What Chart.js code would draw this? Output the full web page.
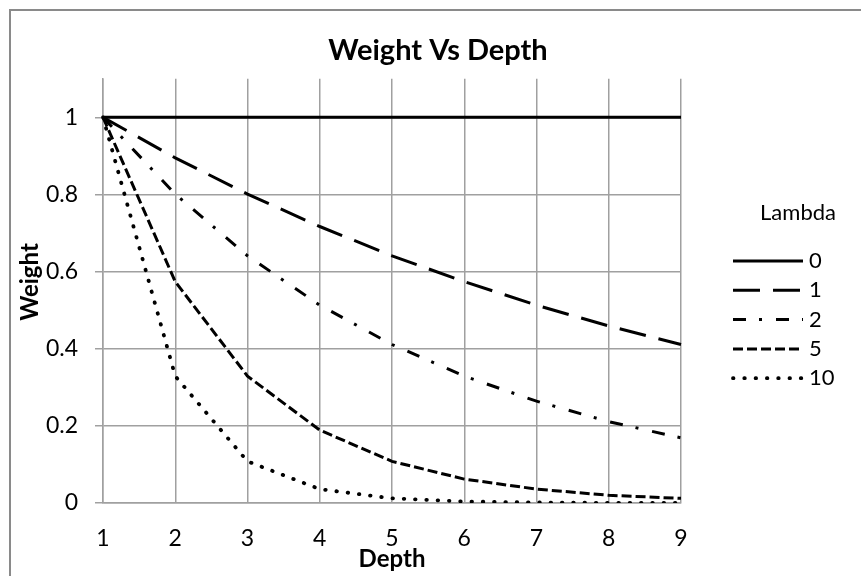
<!DOCTYPE html>
<html>
<head>
<meta charset="utf-8">
<script src="https://cdn.jsdelivr.net/npm/chart.js@4.4.1/dist/chart.umd.min.js"></script>
<style>
  body { margin: 0; background: #fff; }
</style>
</head>
<body>
<canvas id="mainChart" width="861" height="576"></canvas>
<script>
const depths = [1, 2, 3, 4, 5, 6, 7, 8, 9]
const lambdas = ['0', '1', '2', '5', '10']
const weight0 = [1, 1, 1, 1, 1, 1, 1, 1, 1]
const weight1 = [1, 0.895, 0.801, 0.717, 0.641, 0.574, 0.513, 0.459, 0.411]
const weight2 = [1, 0.801, 0.641, 0.513, 0.411, 0.329, 0.264, 0.211, 0.169]
const weight5 = [1, 0.574, 0.329, 0.189, 0.108, 0.062, 0.036, 0.020, 0.012]
const weight10 = [1, 0.329, 0.108, 0.036, 0.012, 0.004, 0.0013, 0.0004, 0.0001]
const yTicks = [0, 0.2, 0.4, 0.6, 0.8, 1]

const gridGray = '#a0a0a0'

// white background + the grey chart frame (only left/top edges are on screen)
const framePlugin = {
    id: 'frame',
    beforeDraw(chart) {
        const ctx = chart.ctx
        ctx.save()
        ctx.fillStyle = '#fff'
        ctx.fillRect(0, 0, chart.width, chart.height)
        ctx.strokeStyle = '#8a8a8a'
        ctx.lineWidth = 2
        ctx.strokeRect(10, 10, 2000, 2000)
        ctx.restore()
    }
}

// Excel puts the y title a bit above the middle of the axis, so draw it here
const weightTitle = {
    id: 'weightTitle',
    afterDraw(chart) {
        const ctx = chart.ctx
        ctx.save()
        ctx.fillStyle = '#000'
        ctx.font = 'bold 24px Lato'
        ctx.textAlign = 'center'
        ctx.textBaseline = 'middle'
        ctx.translate(30, 282)
        ctx.rotate(-Math.PI / 2)
        ctx.fillText('Weight', 0, 0)
        ctx.restore()
    }
}

// Excel style legend: title on top, line sample then label
const lambdaLegend = {
    id: 'lambdaLegend',
    afterDraw(chart) {
        const ctx = chart.ctx
        ctx.save()
        ctx.fillStyle = '#000'
        ctx.strokeStyle = '#000'
        ctx.font = '22px Lato'
        ctx.textBaseline = 'middle'
        ctx.textAlign = 'center'
        ctx.fillText('Lambda', 798, 213)
        chart.data.datasets.forEach((ds, i) => {
            const y = 261 + i * 29.3
            ctx.lineWidth = ds.borderWidth
            ctx.lineCap = ds.borderCapStyle || 'butt'
            ctx.setLineDash(ds.borderDash || [])
            ctx.beginPath()
            ctx.moveTo(733, y)
            ctx.lineTo(803, y)
            ctx.stroke()
            ctx.setLineDash([])
            ctx.textAlign = 'left'
            ctx.fillText(ds.label, 809, y)
        })
        ctx.restore()
    }
}

function serie(label, data, dash, cap, width) {
    return {
        label: label,
        data: data,
        borderColor: '#000',
        backgroundColor: '#000',
        borderWidth: width || 3,
        borderDash: dash,
        borderCapStyle: cap || 'butt',
        pointRadius: 0,
        tension: 0,
        fill: false
    }
}

const ctx = document.getElementById('mainChart').getContext('2d')
const mainChart = new Chart(ctx, {
    type: 'line',
    data: {
        labels: depths,
        datasets: [
            serie(lambdas[0], weight0, []),
            serie(lambdas[1], weight1, [27, 13]),
            serie(lambdas[2], weight2, [13, 13, 3, 14]),
            serie(lambdas[3], weight5, [10, 4]),
            serie(lambdas[4], weight10, [0.5, 10.8], 'round', 3.8)
        ]
    },
    options: {
        responsive: false,
        animation: false,
        devicePixelRatio: 1,
        layout: {
            padding: { left: 15, right: 0, top: 0, bottom: 0 }
        },
        plugins: {
            legend: { display: false },
            tooltip: { enabled: false },
            title: {
                display: true,
                text: 'Weight Vs Depth',
                color: '#000',
                font: { family: 'Lato', size: 29, weight: 'bold' },
                padding: { top: 33, bottom: 11 }
            }
        },
        scales: {
            x: {
                offset: false,
                grid: { color: gridGray, lineWidth: 1.5, drawTicks: false },
                border: { color: gridGray, width: 1.5 },
                ticks: {
                    color: '#000',
                    font: { family: 'Lato', size: 23 },
                    padding: 22,
                    maxRotation: 0
                },
                title: {
                    display: true,
                    text: 'Depth',
                    color: '#000',
                    font: { family: 'Lato', size: 24, weight: 'bold' },
                    padding: { top: 0, bottom: 2 }
                },
                afterFit: s => { s.height = 73 }
            },
            y: {
                min: 0,
                max: 1.1,
                grid: { color: gridGray, lineWidth: 1.5, tickLength: 8 },
                border: { color: gridGray, width: 1.5 },
                ticks: {
                    color: '#000',
                    font: { family: 'Lato', size: 23 },
                    padding: 17,
                    callback: v => String(Math.round(v * 10) / 10)
                },
                afterBuildTicks: s => {
                    s.ticks = yTicks.map(v => ({ value: v }))
                },
                afterFit: s => { s.width = 88 }
            },
            // empty right axis that only reserves the room used by the legend
            legendSpace: {
                type: 'linear',
                position: 'right',
                display: true,
                grid: { display: false },
                border: { display: false },
                ticks: { display: false },
                afterFit: s => { s.width = 180 }
            }
        }
    },
    plugins: [framePlugin, weightTitle, lambdaLegend]
})
</script>
</body>
</html>
